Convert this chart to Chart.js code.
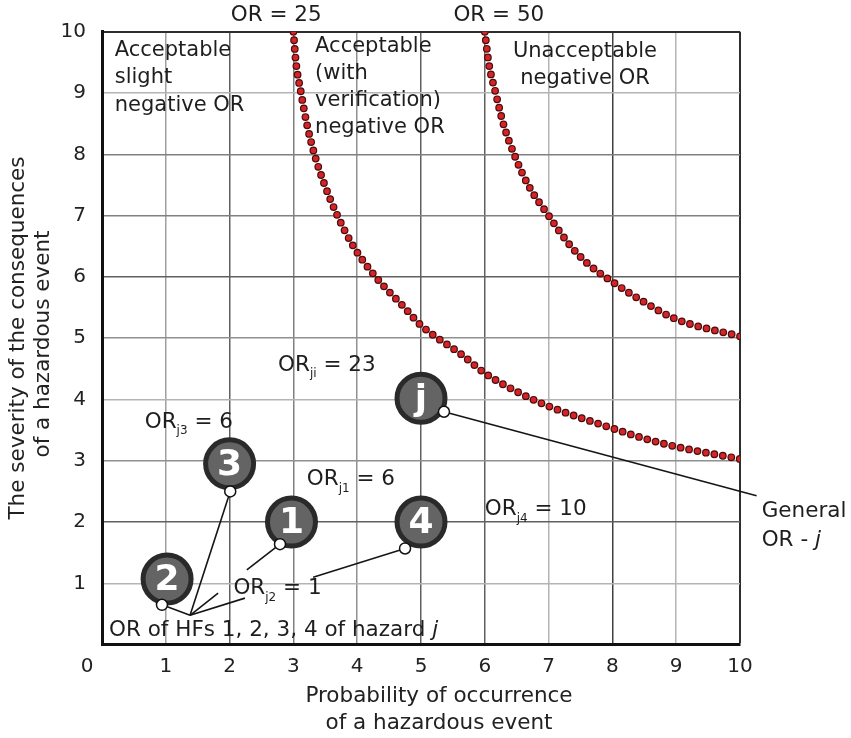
<!DOCTYPE html>
<html>
<head>
<meta charset="utf-8">
<script src="https://cdn.jsdelivr.net/npm/chart.js@4.4.1/dist/chart.umd.min.js"></script>
<style>
body{margin:0;background:#fff}
#wrap{width:851px;height:738px;position:relative}
</style>
</head>
<body>
<div id="wrap"><canvas id="myChart"></canvas></div>
<script>
// tick values, same on both axes
var tickValues = [0,1,2,3,4,5,6,7,8,9,10];

// OR = 25 boundary
var or25X = [3.0,3.04,3.12,3.21,3.33,3.49,3.69,3.94,4.29,4.74,5.0,5.64,6.0,6.5,7.0,8.0,8.48,9.0,10.0];
var or25Y = [10,9.5,9.0,8.5,8.0,7.5,7.0,6.5,6.0,5.5,5.21,4.73,4.43,4.13,3.89,3.53,3.37,3.23,3.03];
// OR = 50 boundary
var or50X = [6.0,6.06,6.17,6.29,6.46,6.68,7.0,7.34,7.62,8.0,8.48,9.0,10.0];
var or50Y = [10,9.5,9.0,8.5,8.0,7.5,7.0,6.51,6.21,5.92,5.6,5.31,5.03];

// hazard factors 1..4 and the hazard j itself
var hfNames = ['1','2','3','4','j'];
var hfX = [2.97,1.02,2.0,5.0,5.0];
var hfY = [2.0,1.07,2.95,2.0,4.02];
// little white pins on the bubbles
var pinX = [2.79,0.94,2.01,4.75,5.36];
var pinY = [1.64,0.65,2.50,1.57,3.80];

// leader lines
var leaderX1 = [1.38,1.38,1.38,1.38,2.27,3.31,5.36];
var leaderY1 = [0.48,0.48,0.48,0.48,1.22,1.10,3.80];
var leaderX2 = [0.94,2.01,1.82,2.24,2.79,4.75,10.26];
var leaderY2 = [0.65,2.50,0.84,0.76,1.64,1.57,2.43];

var FONT = 'DejaVu Sans';

// text notes: parts are [text, style], style '' / 'sub' / 'it'
var notes = [
  {x:2.73, y:10.27, align:'center', lines:[[['OR = 25','']]]},
  {x:6.22, y:10.27, align:'center', lines:[[['OR = 50','']]]},
  {x:0.2, y:9.70, align:'left', size:21, lh:27.5, lines:[[['Acceptable','']],[['slight','']],[['negative OR','']]]},
  {x:3.34, y:9.75, align:'left', size:21, lh:27, lines:[[['Acceptable','']],[['(with','']],[['verification)','']],[['negative OR','']]]},
  {x:7.57, y:9.67, align:'center', size:21, lh:26.6, lines:[[['Unacceptable','']],[['negative OR','']]]},
  {x:2.76, y:4.56, align:'left', lines:[[['OR',''],['ji','sub'],[' = 23','']]]},
  {x:0.67, y:3.63, align:'left', lines:[[['OR',''],['j3','sub'],[' = 6','']]]},
  {x:3.21, y:2.69, align:'left', lines:[[['OR',''],['j1','sub'],[' = 6','']]]},
  {x:6.0, y:2.20, align:'left', lines:[[['OR',''],['j4','sub'],[' = 10','']]]},
  {x:2.06, y:0.91, align:'left', lines:[[['OR',''],['j2','sub'],[' = 1','']]]},
  {x:0.11, y:0.24, align:'left', lines:[[['OR of HFs 1, 2, 3, 4 of hazard ',''],['j','it']]]},
  {x:10.34, y:2.17, align:'left', lh:28.3, lines:[[['General','']],[['OR - ',''],['j','it']]]}
];

function gridX(v){
  var c = {0:'rgba(0,0,0,0)',1:'#a0a0a0',2:'#606060',3:'#808080',4:'#909090',5:'#606060',6:'#606060',7:'#b4b4b4',8:'#404040',9:'#b4b4b4',10:'#2e2e2e'};
  return c[v] || '#aaa';
}
function gridY(v){
  var c = {0:'rgba(0,0,0,0)',1:'#b4b4b4',2:'#606060',3:'#909090',4:'#b4b4b4',5:'#909090',6:'#606060',7:'#808080',8:'#808080',9:'#b4b4b4',10:'#2e2e2e'};
  return c[v] || '#aaa';
}

function pts(xs, ys){ return xs.map(function(x,i){ return {x:x, y:ys[i]}; }); }

function fontFor(style, size){
  if (style === 'sub') return '12px "' + FONT + '"';
  if (style === 'it') return 'italic ' + size + 'px "' + FONT + '"';
  return size + 'px "' + FONT + '"';
}

function drawParts(c, parts, x, y, align, size){
  var w = 0;
  parts.forEach(function(p){ c.font = fontFor(p[1], size); w += c.measureText(p[0]).width; });
  var cx = align === 'center' ? x - w/2 : x;
  parts.forEach(function(p){
    c.font = fontFor(p[1], size);
    c.fillText(p[0], cx, p[1] === 'sub' ? y + 9 : y);
    cx += c.measureText(p[0]).width;
  });
}

var textPlugin = {
  id: 'notes',
  afterDatasetsDraw: function(chart){
    var c = chart.ctx, sx = chart.scales.x, sy = chart.scales.y;
    c.save();
    // numbers inside the bubbles
    var meta = chart.getDatasetMeta(chart.data.datasets.length - 2);
    c.fillStyle = '#fff';
    c.textAlign = 'center';
    c.textBaseline = 'middle';
    meta.data.forEach(function(el, i){
      c.font = 'bold 36px "' + FONT + '"';
      c.fillText(hfNames[i], el.x, el.y + 2);
    });
    // notes
    c.fillStyle = '#1e1e1e';
    c.textAlign = 'left';
    notes.forEach(function(n){
      var size = n.size || 21.5, lh = n.lh || 27;
      var px = sx.getPixelForValue(n.x), py = sy.getPixelForValue(n.y);
      n.lines.forEach(function(l, k){ drawParts(c, l, px, py + k*lh, n.align, size); });
    });
    c.restore();
  },
  afterDraw: function(chart){
    var c = chart.ctx;
    c.save();
    c.fillStyle = '#222';
    c.textAlign = 'center';
    c.textBaseline = 'middle';
    c.font = '20px "' + FONT + '"';
    c.fillText('0', 87, 667);
    c.font = '21.5px "' + FONT + '"';
    c.fillText('Probability of occurrence', 439, 696);
    c.fillText('of a hazardous event', 439, 723);
    c.translate(18, 338);
    c.rotate(-Math.PI/2);
    c.fillText('The severity of the consequences', 0, 0);
    c.fillText('of a hazardous event', -6, 25);
    c.restore();
  }
};

var datasets = [];
[[or25X, or25Y], [or50X, or50Y]].forEach(function(cv){
  datasets.push({type:'line', data:pts(cv[0], cv[1]), borderColor:'#4a0c0c', borderWidth:7.8,
    borderDash:[0,8.6], borderCapStyle:'round', pointRadius:0, cubicInterpolationMode:'monotone', fill:false, order:10});
  datasets.push({type:'line', data:pts(cv[0], cv[1]), borderColor:'#d42428', borderWidth:5.4,
    borderDash:[0,8.6], borderCapStyle:'round', pointRadius:0, cubicInterpolationMode:'monotone', fill:false, order:9});
});
leaderX1.forEach(function(x, i){
  datasets.push({type:'line', data:[{x:x, y:leaderY1[i]}, {x:leaderX2[i], y:leaderY2[i]}],
    borderColor:'#151515', borderWidth:1.6, pointRadius:0, clip:false, fill:false, order:5});
});
datasets.push({type:'scatter', data:pts(hfX, hfY), pointRadius:24, pointBackgroundColor:'#646464',
  pointBorderColor:'#2a2a2a', pointBorderWidth:5, order:2});
datasets.push({type:'scatter', data:pts(pinX, pinY), pointRadius:5.5, pointBackgroundColor:'#fff',
  pointBorderColor:'#111', pointBorderWidth:1.5, order:1});

var ctx = document.getElementById('myChart').getContext('2d');
var myChart = new Chart(ctx, {
  type: 'scatter',
  data: { datasets: datasets },
  plugins: [textPlugin],
  options: {
    responsive: true,
    maintainAspectRatio: false,
    animation: false,
    layout: { padding: { top: 31.7, right: 111, left: 0, bottom: 0 } },
    plugins: { legend: { display: false }, tooltip: { enabled: false } },
    scales: {
      x: {
        type: 'linear', min: 0, max: 10,
        afterBuildTicks: function(s){ s.ticks = tickValues.map(function(v){ return {value:v}; }); },
        afterFit: function(s){ s.height = 93.3; },
        ticks: { padding: 10, autoSkip: false, maxRotation: 0, color: '#222',
          font: { family: FONT, size: 20 },
          callback: function(v){ return v === 0 ? '' : v; } },
        grid: { drawTicks: false, color: function(c){ return gridX(c.tick.value); },
          lineWidth: function(c){ return c.tick.value === 10 ? 2 : 1.5; } },
        border: { color: '#111', width: 3 }
      },
      y: {
        type: 'linear', min: 0, max: 10,
        afterBuildTicks: function(s){ s.ticks = tickValues.map(function(v){ return {value:v}; }); },
        afterFit: function(s){ s.width = 102; },
        ticks: { padding: 16, autoSkip: false, color: '#222',
          font: { family: FONT, size: 20 },
          callback: function(v){ return v === 0 ? '' : v; } },
        grid: { drawTicks: false, color: function(c){ return gridY(c.tick.value); },
          lineWidth: function(c){ return c.tick.value === 10 ? 2 : 1.5; } },
        border: { color: '#111', width: 3 }
      }
    }
  }
});
</script>
</body>
</html>
